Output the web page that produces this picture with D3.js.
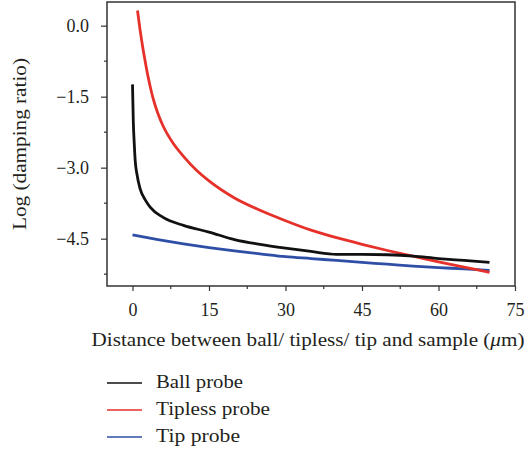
<!DOCTYPE html>
<html>
<head>
<meta charset="utf-8">
<script src="https://cdn.jsdelivr.net/npm/d3@7"></script>
<style>
body { margin: 0; background: #fff; }
svg text { font-family: "Liberation Serif", "DejaVu Serif", serif; fill: #231f20; }
</style>
</head>
<body>
<div id="chart"></div>
<script>
// values
var ballX = [0, 0.15, 0.35, 0.53, 0.86, 1.5, 2.5, 3.5, 6, 10, 15, 20, 25, 30, 35, 40, 45, 50, 55, 60, 65, 70];
var ballY = [-1.24, -2.0, -2.5, -2.85, -3.13, -3.45, -3.68, -3.84, -4.05, -4.22, -4.36, -4.52, -4.62, -4.7, -4.77, -4.83, -4.83, -4.84, -4.87, -4.92, -4.96, -5.0];
var tiplessX = [0.98, 1.5, 2, 2.5, 3, 3.5, 4, 5, 6, 8, 10, 12.5, 15, 20, 25, 30, 35, 40, 45, 50, 55, 60, 65, 70];
var tiplessY = [0.32, -0.1, -0.45, -0.76, -1.05, -1.3, -1.52, -1.86, -2.12, -2.49, -2.76, -3.05, -3.28, -3.64, -3.9, -4.12, -4.32, -4.48, -4.62, -4.75, -4.87, -4.99, -5.1, -5.21];
var tipX = [0, 5, 10, 15, 20, 25, 30, 35, 40, 45, 50, 55, 60, 65, 70];
var tipY = [-4.42, -4.52, -4.61, -4.69, -4.76, -4.82, -4.88, -4.92, -4.96, -5.0, -5.04, -5.08, -5.11, -5.14, -5.17];

var seriesNames = ["Ball probe", "Tipless probe", "Tip probe"];
var seriesColors = ["#111111", "#e5312a", "#2f4fa6"];
var xTicks = [0, 15, 30, 45, 60, 75];
var yTicks = [0, -1.5, -3, -4.5];

var W = 529, H = 451;
var margin = {top: 2, right: 14, bottom: 165, left: 107};
var w = W - margin.left - margin.right;
var h = H - margin.top - margin.bottom;

var x = d3.scaleLinear().domain([-5, 75]).range([0, w]);
var y = d3.scaleLinear().domain([-5.5, 0.5]).range([h, 0]);

var svg = d3.select("#chart").append("svg")
	.attr("width", W).attr("height", H);

var chart = svg.append("g")
	.attr("transform", "translate(" + margin.left + "," + margin.top + ")");

// minor ticks
var xMinor = d3.range(7.5, 75, 15);
var yMinor = [-0.75, -2.25, -3.75, -5.25];

var xAxis = d3.axisBottom(x).tickValues(xTicks).tickSize(5).tickPadding(12)
	.tickFormat(d3.format("d"));
var yAxis = d3.axisLeft(y).tickValues(yTicks).tickSize(6).tickPadding(12)
	.tickFormat(function(d) { return d3.format(".1f")(d).replace("-", "\u2212"); });

var gx = chart.append("g").attr("transform", "translate(0," + h + ")").call(xAxis);
var gy = chart.append("g").call(yAxis);
gx.append("g").selectAll("line").data(xMinor).enter().append("line")
	.attr("x1", function(d) { return x(d); }).attr("x2", function(d) { return x(d); })
	.attr("y1", 0).attr("y2", 3);
gy.append("g").selectAll("line").data(yMinor).enter().append("line")
	.attr("y1", function(d) { return y(d); }).attr("y2", function(d) { return y(d); })
	.attr("x1", 0).attr("x2", -3);
[gx, gy].forEach(function(g) {
	g.select(".domain").remove();
	g.selectAll("line").attr("stroke", "#333").attr("stroke-width", 1.2);
	g.selectAll("text").style("font-size", "18px").attr("fill", "#231f20")
		.style("font-family", "Liberation Serif, serif");
});

// frame
chart.append("rect").attr("x", 0).attr("y", 0).attr("width", w).attr("height", h)
	.attr("fill", "none").attr("stroke", "#333").attr("stroke-width", 1.5);

var line = d3.line()
	.x(function(d) { return x(d[0]); })
	.y(function(d) { return y(d[1]); })
	.curve(d3.curveMonotoneX);

var series = [d3.zip(ballX, ballY), d3.zip(tiplessX, tiplessY), d3.zip(tipX, tipY)];
// ball drawn last, it sits on top in the figure
[2, 1, 0].forEach(function(i) {
	chart.append("path").datum(series[i])
		.attr("fill", "none")
		.attr("stroke", seriesColors[i])
		.attr("stroke-width", 2.8)
		.attr("d", line);
});

// axis titles
var xTitle = svg.append("text")
	.attr("x", 308).attr("y", 346)
	.attr("text-anchor", "middle").style("font-size", "19.5px")
	.attr("textLength", 433).attr("lengthAdjust", "spacingAndGlyphs");
xTitle.append("tspan").text("Distance between ball/ tipless/ tip and sample (");
xTitle.append("tspan").style("font-style", "italic").text("\u03bc");
xTitle.append("tspan").text("m)");

svg.append("text")
	.attr("transform", "translate(26,144) rotate(-90)")
	.attr("text-anchor", "middle").style("font-size", "19px")
	.attr("textLength", 172).attr("lengthAdjust", "spacingAndGlyphs")
	.text("Log (damping ratio)");

// legend
var legendWidths = [87, 114, 84];
var legend = svg.append("g");
seriesNames.forEach(function(name, i) {
	var ly = 383 + i * 27;
	legend.append("line").attr("x1", 107).attr("x2", 142).attr("y1", ly).attr("y2", ly)
		.attr("stroke", seriesColors[i]).attr("stroke-width", 1.5);
	legend.append("text").attr("x", 156).attr("y", ly + 4.5)
		.style("font-size", "19.5px")
		.attr("textLength", legendWidths[i]).attr("lengthAdjust", "spacingAndGlyphs")
		.text(name);
});
</script>
</body>
</html>
